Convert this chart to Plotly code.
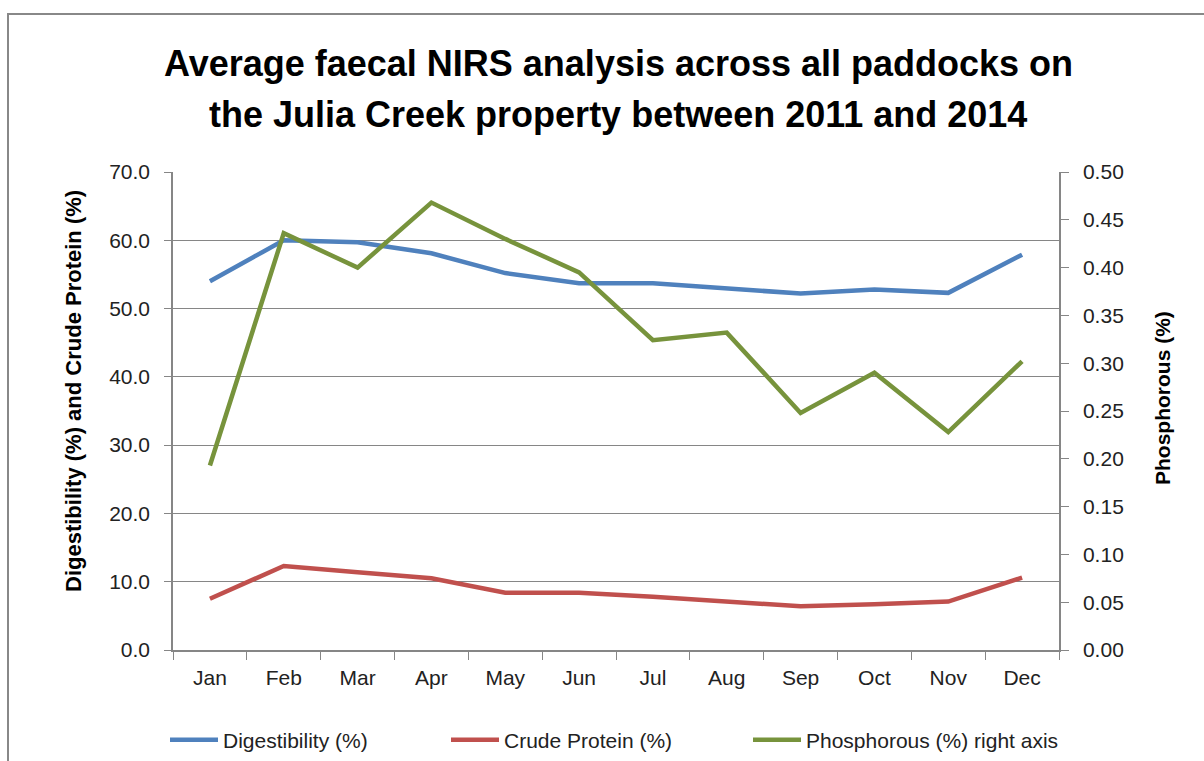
import plotly.graph_objects as go

months = ["Jan", "Feb", "Mar", "Apr", "May", "Jun", "Jul", "Aug", "Sep", "Oct", "Nov", "Dec"]
digestibility = [54.0, 60.0, 59.7, 58.1, 55.2, 53.7, 53.7, 52.9, 52.2, 52.8, 52.3, 57.9]
crude_protein = [7.5, 12.3, 11.4, 10.5, 8.4, 8.4, 7.8, 7.1, 6.4, 6.7, 7.1, 10.6]
phosphorous = [0.193, 0.436, 0.400, 0.468, 0.430, 0.395, 0.324, 0.332, 0.248, 0.290, 0.228, 0.302]

left_ticks = [0, 10, 20, 30, 40, 50, 60, 70]
right_ticks = [0, 0.05, 0.10, 0.15, 0.20, 0.25, 0.30, 0.35, 0.40, 0.45, 0.50]

FONT = "Liberation Sans, Arial, sans-serif"
GRID = "#868686"
AXIS = "#868686"
TXT = "#222222"

fig = go.Figure()
fig.add_trace(go.Scatter(x=months, y=digestibility, mode="lines", name="Digestibility (%)",
                         line=dict(color="#4F81BD", width=4.5), legend="legend"))
fig.add_trace(go.Scatter(x=months, y=crude_protein, mode="lines", name="Crude Protein (%)",
                         line=dict(color="#C0504D", width=4.5), legend="legend2"))
fig.add_trace(go.Scatter(x=months, y=phosphorous, mode="lines", name="Phosphorous (%) right axis",
                         line=dict(color="#77933C", width=4.5), yaxis="y2", legend="legend3"))

W, H = 1204, 761
L, R, T, B = 173, 145, 172, 111
pw, ph = W - L - R, H - T - B

def px_x(px):
    return (px - L) / pw

def px_y(py):
    return (H - B - py) / ph

def legend_at(px):
    return dict(orientation="h", x=px_x(px), xanchor="left", y=px_y(740), yanchor="middle",
                font=dict(size=21, color=TXT), itemwidth=48, bgcolor="rgba(0,0,0,0)")

fig.update_layout(
    width=W, height=H,
    margin=dict(l=L, r=R, t=T, b=B, autoexpand=False),
    paper_bgcolor="white", plot_bgcolor="white",
    font=dict(family=FONT, color=TXT, size=18),
    showlegend=True,
    legend=legend_at(165),
    legend2=legend_at(446),
    legend3=legend_at(748),
    xaxis=dict(type="category", range=[-0.5, 11.5], tickmode="array", tickvals=months, ticktext=months,
               showline=True, linecolor=AXIS, linewidth=1.5, showgrid=False,
               ticks="outside", ticklen=8, tickcolor=AXIS, tickson="boundaries",
               ticklabelstandoff=8,
               tickfont=dict(size=21, color=TXT), fixedrange=True),
    yaxis=dict(range=[0, 70], tickmode="array", tickvals=left_ticks,
               ticktext=[f"{v:.1f}" for v in left_ticks],
               showline=True, linecolor=AXIS, linewidth=1.5, showgrid=True,
               gridcolor=GRID, gridwidth=1.2, zeroline=False,
               ticks="outside", ticklen=7, tickcolor=AXIS, ticklabelstandoff=10,
               tickfont=dict(size=21, color=TXT), fixedrange=True),
    yaxis2=dict(range=[0, 0.5], overlaying="y", side="right", tickmode="array",
                tickvals=right_ticks, ticktext=[f"{v:.2f}" for v in right_ticks],
                showline=True, linecolor=AXIS, linewidth=1.5, showgrid=False, zeroline=False,
                ticks="outside", ticklen=8, tickcolor=AXIS, ticklabelstandoff=10,
                tickfont=dict(size=21, color=TXT), fixedrange=True),
    annotations=[
        dict(text="<b>Average faecal NIRS analysis across all paddocks on</b>",
             xref="paper", yref="paper", x=px_x(618), y=px_y(63), xanchor="center", yanchor="middle",
             showarrow=False, font=dict(size=36, color="black", family=FONT)),
        dict(text="<b>the Julia Creek property between 2011 and 2014</b>",
             xref="paper", yref="paper", x=px_x(618), y=px_y(115), xanchor="center", yanchor="middle",
             showarrow=False, font=dict(size=36, color="black", family=FONT)),
        dict(text="<b>Digestibility (%) and Crude Protein (%)</b>",
             xref="paper", yref="paper", x=px_x(73), y=px_y(391), xanchor="center", yanchor="middle",
             textangle=-90, showarrow=False, font=dict(size=22, color="black", family=FONT)),
        dict(text="<b>Phosphorous (%)</b>",
             xref="paper", yref="paper", x=px_x(1162), y=px_y(398), xanchor="center", yanchor="middle",
             textangle=-90, showarrow=False, font=dict(size=21, color="black", family=FONT)),
    ],
    shapes=[
        dict(type="rect", xref="paper", yref="paper",
             x0=px_x(8), y0=px_y(H + 50), x1=px_x(W + 50), y1=px_y(14),
             line=dict(color="#888888", width=2), fillcolor="rgba(0,0,0,0)", layer="below"),
    ],
)

fig.write_html("out.html")
